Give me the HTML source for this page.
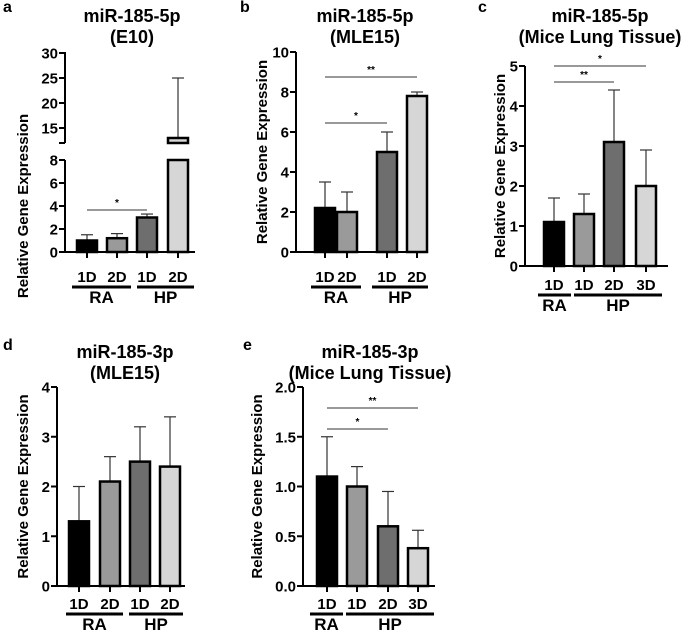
<!DOCTYPE html>
<html><head><meta charset="utf-8"><style>
body{margin:0;background:#fff;}
svg{display:block;font-family:"Liberation Sans",Arial,sans-serif;font-weight:bold;}
</style></head><body>
<svg id="fig" width="685" height="633" viewBox="0 0 685 633" xmlns="http://www.w3.org/2000/svg"></svg>
<script>
const fills = ["#000000","#9a9a9a","#6e6e6e","#d6d6d6"];
const aCats = ["1D","2D","1D","2D"];
const aVals = [1.0,1.2,3.0,13];
const aErrs = [0.5,0.4,0.3,12];
const bCats = ["1D","2D","1D","2D"];
const bVals = [2.2,2.0,5.0,7.8];
const bErrs = [1.3,1.0,1.0,0.2];
const cCats = ["1D","1D","2D","3D"];
const cVals = [1.1,1.3,3.1,2.0];
const cErrs = [0.6,0.5,1.3,0.9];
const dCats = ["1D","2D","1D","2D"];
const dVals = [1.3,2.1,2.5,2.4];
const dErrs = [0.7,0.5,0.7,1.0];
const eCats = ["1D","1D","2D","3D"];
const eVals = [1.1,1.0,0.6,0.38];
const eErrs = [0.4,0.2,0.35,0.18];
const aTicks = [0,2,4,6,8];
const aTicksUp = [15,20,25,30];
const bTicks = [0,2,4,6,8,10];
const cTicks = [0,1,2,3,4,5];
const dTicks = [0,1,2,3,4];
const eTicks = [0,0.5,1.0,1.5,2.0];
const eTickLabels = ["0.0","0.5","1.0","1.5","2.0"];

const svg = document.getElementById('fig');
const NS = "http://www.w3.org/2000/svg";
function mk(tag, attrs, parent){
  const el = document.createElementNS(NS, tag);
  for (const k in attrs) el.setAttribute(k, attrs[k]);
  (parent||svg).appendChild(el);
  return el;
}
function txt(x,y,s,size,anchor,parent){
  const t = mk('text',{x:x,y:y,'font-size':size,'text-anchor':anchor||'middle'},parent);
  t.textContent = s;
  return t;
}

function panel(cfg){
  const g = mk('g',{});
  
  
  const y = v => cfg.y0 - (v - cfg.vmin) / (cfg.vmax - cfg.vmin) * (cfg.y0 - cfg.y1);
  const lt = txt(cfg.letterX, cfg.letterY, cfg.id, 16, 'start', g);
  
  
  cfg.title.forEach((s,i)=>{
    const t = txt(cfg.titleX, cfg.titleY + i*21, s, 18, 'middle', g);
    
    
  });
  const yl = txt(0,0,'Relative Gene Expression',15,'middle',g);
  yl.setAttribute('transform','translate('+cfg.ylabX+','+((cfg.y0+cfg.y1)/2)+') rotate(-90)');
  
  
  const ya = mk('line',{x1:cfg.ax,y1:cfg.yAxisTop,x2:cfg.ax,y2:cfg.y0+1,stroke:'#000','stroke-width':2},g);
  
  
  const xa = mk('line',{x1:cfg.ax-1,y1:cfg.y0,x2:cfg.axEnd,y2:cfg.y0,stroke:'#000','stroke-width':2},g);
  
  
  cfg.ticks.forEach((v,i)=>{
    mk('line',{x1:cfg.ax-6,y1:y(v),x2:cfg.ax,y2:y(v),stroke:'#000','stroke-width':2},g);
    const t = txt(cfg.ax-7, y(v)+5.5, cfg.tickLabels ? cfg.tickLabels[i] : String(v), 15, 'end', g);
    
    
  });
  const bw = 20;
  cfg.vals.forEach((v,i)=>{
    const cx = cfg.centers[i];
    const clipped = cfg.clip && v > cfg.clip;
    const top = clipped ? cfg.clip : v;
    if (!clipped) {
      const eb = mk('line',{x1:cx,y1:y(top),x2:cx,y2:y(v+cfg.errs[i]),stroke:'#333','stroke-width':1.2},g);
      
      
      mk('line',{x1:cx-6,y1:y(v+cfg.errs[i]),x2:cx+6,y2:y(v+cfg.errs[i]),stroke:'#333','stroke-width':1.2},g);
    }
    const r = mk('rect',{x:cx-bw/2,y:y(top),width:bw,height:cfg.y0-y(top),fill:fills[i],stroke:'#000','stroke-width':2.5},g);
    
    
    mk('line',{x1:cx,y1:cfg.y0,x2:cx,y2:cfg.y0+6,stroke:'#000','stroke-width':2},g);
    const ct = txt(cx, cfg.catY, cfg.cats[i], 15, 'middle', g);
    
    
  });
  cfg.groups.forEach(gr=>{
    mk('line',{x1:gr.x1,y1:cfg.catY+5,x2:gr.x2,y2:cfg.catY+5,stroke:'#000','stroke-width':3},g);
    const t = txt((gr.x1+gr.x2)/2, cfg.catY+21, gr.name, 17, 'middle', g);
    
    
  });
  (cfg.sig||[]).forEach(s=>{
    const l = mk('line',{x1:cfg.centers[s.a],y1:s.y,x2:cfg.centers[s.b],y2:s.y,stroke:'#333','stroke-width':1},g);
    
    
    txt((cfg.centers[s.a]+cfg.centers[s.b])/2, s.y-4, s.t, 10, 'middle', g);
  });
  return {g:g, y:y};
}

const pa = panel({id:'a',letterX:3,letterY:12,title:['miR-185-5p','(E10)'],titleX:132,titleY:22,ylabX:28,
  ax:65,axEnd:195,y0:252,y1:160,vmin:0,vmax:8,yAxisTop:160,ticks:aTicks,cats:aCats,vals:aVals,errs:aErrs,
  centers:[87,117,147,178],clip:8,catY:282,
  groups:[{name:'RA',x1:72,x2:131},{name:'HP',x1:137,x2:194}],sig:[{a:0,b:2,y:210,t:'*'}]});
(function(){
  const uy = v => 128 - (v-15)/5*25;
  const g = pa.g;
  mk('line',{x1:65,y1:52,x2:65,y2:uy(12),stroke:'#000','stroke-width':2},g);
  mk('line',{x1:59,y1:uy(12),x2:65,y2:uy(12),stroke:'#000','stroke-width':2},g);
  aTicksUp.forEach(v=>{
    mk('line',{x1:59,y1:uy(v),x2:65,y2:uy(v),stroke:'#000','stroke-width':2},g);
    const t = txt(58, uy(v)+5.5, String(v), 15, 'end', g);
    
    
  });
  const cx = 178, v = aVals[3], e = aErrs[3];
  mk('line',{x1:cx,y1:uy(v),x2:cx,y2:uy(v+e),stroke:'#333','stroke-width':1.2},g);
  mk('line',{x1:cx-6,y1:uy(v+e),x2:cx+6,y2:uy(v+e),stroke:'#333','stroke-width':1.2},g);
  const r = mk('rect',{x:cx-10,y:uy(v),width:20,height:uy(12)-uy(v),fill:fills[3],stroke:'#000','stroke-width':2.5},g);
  
  
})();

panel({id:'b',letterX:240,letterY:12,title:['miR-185-5p','(MLE15)'],titleX:365,titleY:22,ylabX:267,
  ax:296,axEnd:428,y0:252,y1:52,vmin:0,vmax:10,yAxisTop:52,ticks:bTicks,cats:bCats,vals:bVals,errs:bErrs,
  centers:[325,347,387,417],catY:282,
  groups:[{name:'RA',x1:311,x2:361},{name:'HP',x1:372,x2:428}],
  sig:[{a:0,b:2,y:123,t:'*'},{a:0,b:3,y:77,t:'**'}]});

panel({id:'c',letterX:478,letterY:12,title:['miR-185-5p','(Mice Lung Tissue)'],titleX:600,titleY:22,ylabX:505,
  ax:525,axEnd:668,y0:266,y1:66,vmin:0,vmax:5,yAxisTop:66,ticks:cTicks,cats:cCats,vals:cVals,errs:cErrs,
  centers:[554,584,614,646],catY:290,
  groups:[{name:'RA',x1:538,x2:571},{name:'HP',x1:574,x2:662}],
  sig:[{a:0,b:3,y:66,t:'*'},{a:0,b:2,y:82,t:'**'}]});

panel({id:'d',letterX:3,letterY:350,title:['miR-185-3p','(MLE15)'],titleX:125,titleY:358,ylabX:28,
  ax:57,axEnd:185,y0:586,y1:387,vmin:0,vmax:4,yAxisTop:387,ticks:dTicks,cats:dCats,vals:dVals,errs:dErrs,
  centers:[79,110,140,170],catY:609,
  groups:[{name:'RA',x1:66,x2:123},{name:'HP',x1:129,x2:183}]});

panel({id:'e',letterX:243,letterY:350,title:['miR-185-3p','(Mice Lung Tissue)'],titleX:370,titleY:358,ylabX:262,
  ax:303,axEnd:435,y0:586,y1:387,vmin:0,vmax:2,yAxisTop:387,ticks:eTicks,tickLabels:eTickLabels,cats:eCats,vals:eVals,errs:eErrs,
  centers:[327,357,388,418],catY:609,
  groups:[{name:'RA',x1:310,x2:343},{name:'HP',x1:346,x2:434}],
  sig:[{a:0,b:3,y:408,t:'**'},{a:0,b:2,y:429,t:'*'}]});
</script>
</body></html>
